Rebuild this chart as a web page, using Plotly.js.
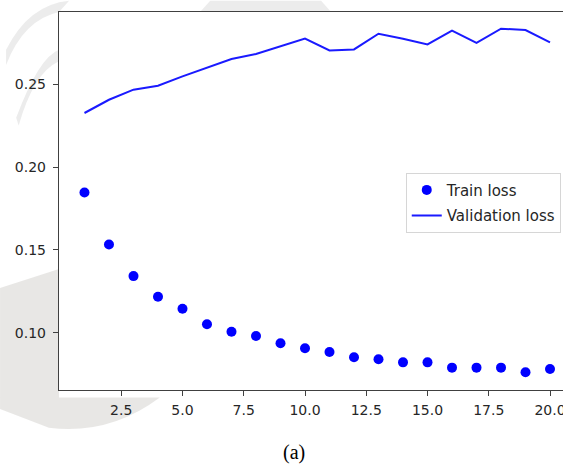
<!DOCTYPE html>
<html>
<head>
<meta charset="utf-8">
<script src="https://cdn.plot.ly/plotly-3.0.1.min.js"></script>
<style>html,body{margin:0;padding:0;background:#fff;}#chart{width:563px;height:466px;}</style>
</head>
<body>
<div id="chart"></div>
<script>
const epochs = [1,2,3,4,5,6,7,8,9,10,11,12,13,14,15,16,17,18,19,20];
const trainLoss = [0.1847,0.1533,0.1342,0.1217,0.1145,0.1051,0.1006,0.0980,0.0936,0.0906,0.0884,0.0852,0.0840,0.0821,0.0821,0.0789,0.0789,0.0789,0.0761,0.0781];
const valLoss = [0.2327,0.2407,0.2468,0.2492,0.2548,0.2601,0.2653,0.2683,0.2729,0.2776,0.2705,0.2711,0.2806,0.2776,0.2741,0.2824,0.2750,0.2836,0.2828,0.2753];
const xTicks = [2.5,5.0,7.5,10.0,12.5,15.0,17.5,20.0];
const xTickText = ['2.5','5.0','7.5','10.0','12.5','15.0','17.5','20.0'];
const yTicks = [0.10,0.15,0.20,0.25];
const yTickText = ['0.10','0.15','0.20','0.25'];
const seriesNames = ['Train loss','Validation loss'];
const caption = '(a)';

const fam = 'DejaVu Sans, sans-serif';
const tickFont = {family:fam, size:14, color:'#262626'};

const data = [
  {x:epochs, y:trainLoss, name:seriesNames[0], mode:'markers', type:'scatter', legendgroup:'a',
   marker:{color:'#0000ff', size:10}},
  {x:epochs, y:valLoss, name:seriesNames[1], mode:'lines', type:'scatter', legendgroup:'b',
   line:{color:'#1a1aff', width:2}}
];

const wm = 'rgba(200,200,200,0.35)';
const layout = {
  width:563, height:466,
  margin:{l:59, r:0, t:12, b:76},
  paper_bgcolor:'#ffffff', plot_bgcolor:'#ffffff',
  showlegend:true,
  legend:{x:0.688, y:0.575, xanchor:'left', yanchor:'top',
    bgcolor:'rgba(255,255,255,0.8)', bordercolor:'#d6d6d6', borderwidth:1,
    font:{family:fam, size:15, color:'#262626'},
    tracegroupgap:3, itemwidth:30},
  xaxis:{range:[-0.04,20.53], tickmode:'array', tickvals:xTicks, ticktext:xTickText,
    showgrid:false, zeroline:false, showline:true, linecolor:'#404040', linewidth:1.2,
    mirror:true, ticks:'outside', ticklen:5, tickcolor:'#404040', tickfont:tickFont,
    ticklabeloverflow:'allow', ticklabelstandoff:2},
  yaxis:{range:[0.0654,0.2937], tickmode:'array', tickvals:yTicks, ticktext:yTickText,
    showgrid:false, zeroline:false, showline:true, linecolor:'#404040', linewidth:1.2,
    mirror:false, ticks:'outside', ticklen:5, tickcolor:'#404040', tickfont:tickFont,
    ticklabelstandoff:4},
  shapes:[
    {type:'path', xref:'paper', yref:'paper', layer:'below', line:{width:0}, fillcolor:wm,
     path:'M -0.105 0.90 Q -0.06 1.02 0.02 1.03 L 0.00 1.00 Q -0.07 0.98 -0.105 0.86 Z'},
    {type:'path', xref:'paper', yref:'paper', layer:'below', line:{width:0}, fillcolor:wm,
     path:'M -0.085 0.72 Q -0.04 0.88 0.00 0.90 L 0.00 0.87 Q -0.05 0.84 -0.08 0.70 Z'},
    {type:'path', xref:'paper', yref:'paper', layer:'below', line:{width:0}, fillcolor:'rgba(190,185,180,0.35)',
     path:'M -0.117 0.27 L 0.00 0.32 L 0.00 -0.02 L 0.20 -0.02 Q 0.10 -0.12 -0.02 -0.10 L -0.117 -0.05 Z'},
    {type:'path', xref:'paper', yref:'paper', layer:'below', line:{width:0}, fillcolor:wm,
     path:'M 0.28 1.00 L 0.30 1.03 L 0.52 1.03 L 0.54 1.00 Z'}
  ],
  annotations:[
    {text:caption, xref:'paper', yref:'paper', x:0.466, y:-0.165, xanchor:'center', yanchor:'middle',
     showarrow:false, font:{family:'Liberation Serif, Times New Roman, serif', size:20, color:'#000000'}}
  ]
};

Plotly.newPlot('chart', data, layout, {displayModeBar:false, staticPlot:true});
</script>
</body>
</html>
